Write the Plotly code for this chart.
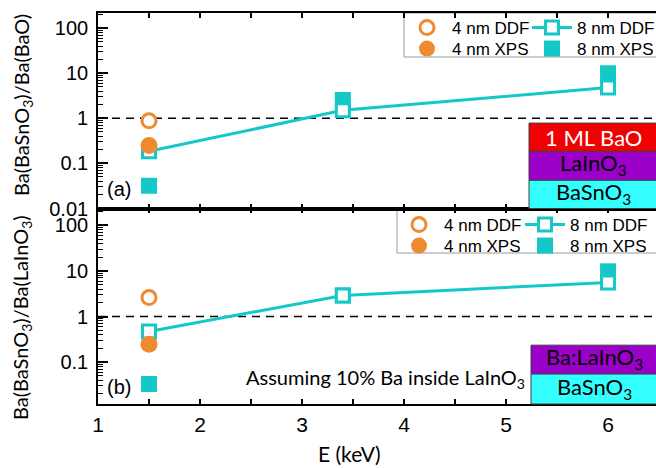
import plotly.graph_objects as go

# ---------------- data ----------------
energy = [1.5, 3.4, 6.0]          # keV
e_4nm = [1.5]

# panel (a): Ba(BaSnO3)/Ba(BaO)
ddf4_a = [0.88]
xps4_a = [0.25]
ddf8_a = [0.186, 1.5, 4.8]
xps8_a = [0.032, 2.55, 10.0]

# panel (b): Ba(BaSnO3)/Ba(LaInO3)
ddf4_b = [2.6]
xps4_b = [0.245]
ddf8_b = [0.47, 2.9, 5.6]
xps8_b = [0.033, 2.9, 9.8]

ref_x = [1, 6.6]
ref_y = [1, 1]

y_major = [0.01, 0.1, 1, 10, 100]
y_major_text = ["0.01", "0.1", "1", "10", "100"]
x_major = [1, 2, 3, 4, 5, 6]

# ---------------- style ----------------
ORANGE = "#F08A2E"
CYAN = "#14C8C8"
W, H = 656, 468
ML, MR, MT, MB = 98, 0, 13, 64
PW, PH = W - ML - MR, H - MT - MB


def px2x(px):
    return (px - ML) / PW


def px2y(py):
    return (H - MB - py) / PH


minor_vals = [k * 10 ** d for d in range(-2, 3) for k in range(2, 10)]

fig = go.Figure()


def add_panel(xa, ya, ddf4, xps4, ddf8, xps8, lgs):
    # dashed reference line
    fig.add_trace(go.Scatter(x=ref_x, y=ref_y, mode="lines", xaxis=xa, yaxis=ya,
                             line=dict(color="black", width=1.6, dash="8px,6px"),
                             showlegend=False, hoverinfo="skip"))
    fig.add_trace(go.Scatter(x=energy, y=xps8, mode="markers", name="8 nm XPS",
                             xaxis=xa, yaxis=ya, legend=lgs[3],
                             marker=dict(symbol="square", size=16, color=CYAN,
                                         line=dict(width=0))))
    fig.add_trace(go.Scatter(x=energy, y=ddf8, mode="lines+markers", name="8 nm DDF",
                             xaxis=xa, yaxis=ya, legend=lgs[1],
                             line=dict(color=CYAN, width=3),
                             marker=dict(symbol="square", size=13, color="white",
                                         line=dict(color=CYAN, width=3))))
    fig.add_trace(go.Scatter(x=e_4nm, y=xps4, mode="markers", name="4 nm XPS",
                             xaxis=xa, yaxis=ya, legend=lgs[2],
                             marker=dict(symbol="circle", size=17, color=ORANGE,
                                         line=dict(width=0))))
    fig.add_trace(go.Scatter(x=e_4nm, y=ddf4, mode="markers", name="4 nm DDF",
                             xaxis=xa, yaxis=ya, legend=lgs[0],
                             marker=dict(symbol="circle", size=14, color="white",
                                         line=dict(color=ORANGE, width=3))))


add_panel("x2", "y2", ddf4_a, xps4_a, ddf8_a, xps8_a,
          ["legend", "legend2", "legend3", "legend4"])
add_panel("x", "y", ddf4_b, xps4_b, ddf8_b, xps8_b,
          ["legend5", "legend6", "legend7", "legend8"])

TICKFONT = dict(family="Liberation Sans, Arial, sans-serif", size=20, color="black")
LEGFONT = dict(family="Liberation Sans, Arial, sans-serif", size=17, color="black")
TXTFONT = "Lato, Open Sans, sans-serif"

xcommon = dict(range=[1, 6.47], showline=True, linecolor="black", linewidth=1.6,
               mirror="ticks", ticks="inside", ticklen=5, tickwidth=1.5, tickcolor="black",
               tickvals=x_major, showgrid=False, zeroline=False,
               minor=dict(dtick=0.5, ticks="inside", ticklen=5, tickwidth=1.5,
                          tickcolor="black", showgrid=False))
ycommon = dict(type="log", showline=True, linecolor="black", linewidth=1.6,
               ticks="inside", ticklen=10, tickwidth=1.5, tickcolor="black",
               tickvals=y_major, ticktext=y_major_text, showgrid=False, zeroline=False,
               tickfont=TICKFONT, ticklabelstandoff=4,
               minor=dict(tickvals=minor_vals, ticks="inside", ticklen=5, tickwidth=1,
                          tickcolor="black", showgrid=False))

legcommon = dict(orientation="v", bgcolor="rgba(0,0,0,0)", borderwidth=0,
                 font=LEGFONT, xanchor="left", yanchor="top", itemwidth=40)

fig.update_layout(
    width=W, height=H,
    margin=dict(l=ML, r=MR, t=MT, b=MB, pad=0, autoexpand=False),
    paper_bgcolor="white", plot_bgcolor="white",
    xaxis=dict(**xcommon, anchor="y", domain=[0, 1],
               tickfont=dict(family="Liberation Sans, Arial, sans-serif", size=21, color="black"),
               ticklabelstandoff=1),
    xaxis2=dict(**xcommon, anchor="y2", domain=[0, 1], matches="x", showticklabels=False),
    yaxis=dict(**ycommon, domain=[0, 0.5], range=[-1.92, 2.37], anchor="x"),
    yaxis2=dict(**ycommon, domain=[0.5, 1], range=[-2, 2.335], anchor="x2"),
    legend=dict(**legcommon, x=px2x(402), y=px2y(10)),
    legend2=dict(**legcommon, x=px2x(527), y=px2y(10)),
    legend3=dict(**legcommon, x=px2x(402), y=px2y(31)),
    legend4=dict(**legcommon, x=px2x(527), y=px2y(31)),
    legend5=dict(**legcommon, x=px2x(394), y=px2y(207)),
    legend6=dict(**legcommon, x=px2x(520), y=px2y(207)),
    legend7=dict(**legcommon, x=px2x(394), y=px2y(228)),
    legend8=dict(**legcommon, x=px2x(520), y=px2y(228)),
    showlegend=True,
)

shapes = []
# legend frames
shapes.append(dict(type="rect", xref="paper", yref="paper", x0=px2x(404), x1=px2x(700),
                   y0=px2y(57), y1=px2y(13), line=dict(color="#9a9a9a", width=1),
                   fillcolor="white", layer="below"))
shapes.append(dict(type="rect", xref="paper", yref="paper", x0=px2x(397), x1=px2x(700),
                   y0=px2y(253), y1=px2y(210), line=dict(color="#9a9a9a", width=1),
                   fillcolor="white", layer="below"))

RED, PURPLE, AQUA = "#F00000", "#9A00C8", "#33FFFF"
# layer stacks (panel a)
for y0, y1, col in [(0.437, 0.292, RED), (0.292, 0.144, PURPLE), (0.144, 0.0, AQUA)]:
    shapes.append(dict(type="rect", xref="x2 domain", yref="y2 domain",
                       x0=px2x(529), x1=1.05, y0=y1, y1=y0, fillcolor=col,
                       line=dict(color="#404040", width=1), layer="above"))
# layer stacks (panel b)
for y0, y1, col in [(0.301, 0.153, PURPLE), (0.153, 0.0, AQUA)]:
    shapes.append(dict(type="rect", xref="x domain", yref="y domain",
                       x0=px2x(531), x1=1.05, y0=y1, y1=y0, fillcolor=col,
                       line=dict(color="#404040", width=1), layer="above"))
fig.update_layout(shapes=shapes)

ann = []


def txt(text, xpx, ypx, size, color="black", family=TXTFONT, angle=0):
    ann.append(dict(text=text, x=px2x(xpx), y=px2y(ypx), xref="paper", yref="paper",
                    showarrow=False, xanchor="center", yanchor="middle", textangle=angle,
                    font=dict(family=family, size=size, color=color)))


txt("1 ML BaO", 593, 137, 22, color="white")
txt("LaInO<sub>3</sub>", 593, 164, 22)
txt("BaSnO<sub>3</sub>", 593, 193, 22)
txt("Ba:LaInO<sub>3</sub>", 594, 358, 22)
txt("BaSnO<sub>3</sub>", 594, 388, 22)
txt("Assuming 10% Ba inside LaInO<sub>3</sub>", 385, 378, 20)
txt("(a)", 119, 189, 20, family="Liberation Sans, Arial, sans-serif")
txt("(b)", 119, 387, 20, family="Liberation Sans, Arial, sans-serif")
txt("Ba(BaSnO<sub>3</sub>)/Ba(BaO)", 22, 105, 20, angle=-90)
txt("Ba(BaSnO<sub>3</sub>)/Ba(LaInO<sub>3</sub>)", 21, 318, 20, angle=-90)
txt("E (keV)", 349, 453, 21)
fig.update_layout(annotations=ann)

fig.write_html("out.html", config={"displayModeBar": False},
               post_script="document.body.style.margin='0';document.body.style.overflow='hidden';")
